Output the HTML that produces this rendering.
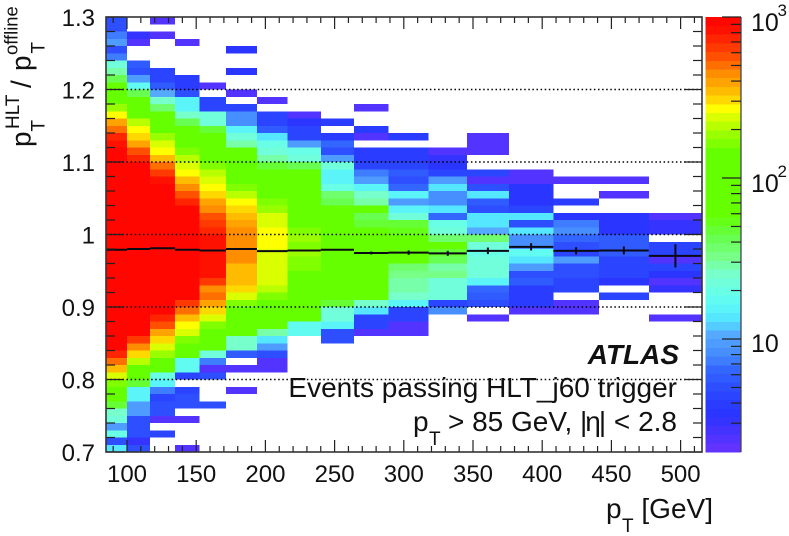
<!DOCTYPE html>
<html lang="en">
<head>
<meta charset="utf-8">
<title>HLT jet response versus pT</title>
<style>
html,body{margin:0;padding:0;background:#fff;width:789px;height:536px;overflow:hidden}
svg{display:block;font-family:"Liberation Sans",sans-serif;fill:#111}
</style>
</head>
<body>
<svg id="chart" xmlns="http://www.w3.org/2000/svg" width="789" height="536" viewBox="0 0 789 536">
  <g id="cells"></g>
  <g id="grid"></g>
  <g id="means"></g>
  <g id="ticks"></g>
  <rect x="106" y="17" width="596" height="435" fill="none" stroke="#333" stroke-width="1.6"/>
  <g id="tickLabels" font-size="24"></g>
  <g id="colorbar"></g>

  <g>
    <text x="606" y="518" font-size="28">p</text>
    <text x="622" y="532" font-size="19">T</text>
    <text x="713" y="518" font-size="28" text-anchor="end">[GeV]</text>
  </g>
  <g>
    <text transform="translate(30.5,147) rotate(-90)" font-size="28">p</text>
    <text transform="translate(44.5,131.5) rotate(-90)" font-size="19">T</text>
    <text transform="translate(19,129) rotate(-90)" font-size="19">HLT</text>
    <text transform="translate(30.5,88) rotate(-90)" font-size="28">/</text>
    <text transform="translate(30.5,71) rotate(-90)" font-size="28">p</text>
    <text transform="translate(44.5,53.5) rotate(-90)" font-size="19">T</text>
    <text transform="translate(17.5,55) rotate(-90)" font-size="18.4">offline</text>
  </g>
  <text x="679" y="364" font-size="28" font-weight="bold" font-style="italic" text-anchor="end">ATLAS</text>
  <text x="677" y="397" font-size="28" text-anchor="end">Events passing HLT_j60 trigger</text>
  <g>
    <text x="413" y="431" font-size="28">p</text>
    <text x="429" y="445" font-size="19">T</text>
    <text x="677" y="431" font-size="28" text-anchor="end">&gt; 85 GeV, |<tspan dx="-2">η</tspan><tspan dx="-2">|</tspan> &lt; 2.8</text>
  </g>
</svg>

<script>
// pT bin edges in GeV
const binEdges = [85,100,116.6,134.7,152.4,171.5,193.9,216,240,264,289,318,345.5,376,408,441,477,515.5];
// First ratio row with a value in each column (row 0 is the top row, ratio 1.29-1.30)
const firstRow = [0,2,0,3,9,4,11,13,14,12,16,18,16,21,22,22,27];
// Event counts per column, running downward from firstRow; 0 means an empty bin
const binCounts = [
 [5,5,7,10,5,7,22,28,40,70,130,150,190,260,380,480,720,800,
  1000,1000,1000,1000,1000,1000,1000,1000,1000,1000,1000,1000,1000,1000,
  1000,1000,1000,1000,1000,1000,1000,1000,1000,1000,1000,1000,1000,1000,
  700,500,350,250,170,110,80,50,25,22,10,20,5,14],
 [3.2,2.4,0,0,6,5,9,17,40,100,120,150,210,260,320,400,540,700,
  1000,1000,1000,1000,1000,1000,1000,1000,1000,1000,1000,1000,
  1000,1000,1000,1000,1000,1000,1000,1000,1000,1000,1000,1000,
  650,440,300,200,130,90,50,15,16,10,9,5,5,5,3.2,5],
 [2.3,0,2.3,0,0,0,0,4.5,4.5,6,11,27,35,70,110,150,190,230,280,340,480,640,800,
  1000,1000,1000,1000,1000,1000,1000,1000,1000,1000,1000,1000,1000,1000,1000,1000,1000,1000,
  720,600,400,290,240,190,110,80,20,15,7,4.5,5,5,2.3,0,4.5,0,0],
 [2.3,0,0,0,0,4,4,5,16,16,25,40,80,100,140,170,200,240,280,350,430,600,720,
  1000,1000,1000,1000,1000,1000,1000,1000,1000,1000,1000,1000,1000,
  650,480,360,280,230,170,100,80,18,18,4.5,0,4.5,5,5,0,2.3,0,0,0,2.3],
 [2.3,0,4.5,4.5,22,24,45,70,90,120,130,170,200,250,260,320,400,440,590,620,720,
  850,850,850,850,850,850,650,470,500,380,290,230,160,130,90,70,24,7,2.3,5,0,0,0,5],
 [3.5,0,0,3.5,0,0,2.3,0,4.5,8,8,15,22,30,60,80,100,110,120,170,220,280,290,330,400,420,
  420,440,450,420,350,360,330,300,240,170,130,110,90,80,25,25,6,0,2.3,0,0,2.3],
 [2.3,0,4.5,4.5,6,14,19,22,30,50,70,90,100,110,160,190,230,250,260,
  260,260,250,250,230,230,230,200,170,120,110,90,70,30,14,10,5,2.3,2.3],
 [2.3,3.5,4.5,4.5,10,20,22,40,60,80,85,90,100,110,120,130,170,
  180,170,190,170,160,150,140,130,120,100,90,80,17,17],
 [4,0,4,6.5,5,10,22,16,15,20,35,40,80,90,100,110,
  110,120,130,130,120,110,100,90,80,50,24,24,15,5,5],
 [2.3,0,0,4,2.3,0,4,4,4.5,7,10,15,25,28,70,40,45,70,
  80,85,90,90,85,80,75,70,65,25,14,4.5,4.5,2.3],
 [4,0,4,4,4.5,6,5,6.5,15,10,15,22,45,55,65,75,80,70,35,32,30,28,26,16,4.5,4.5,2.3,2.3],
 [2.3,3.2,3.5,4.5,9,14,8,8.5,13,6.5,20,22,35,60,45,40,28,32,22,22,22,4.5,8.5],
 [2.3,2.3,2.3,0,0,4.5,2.3,5,14,6,5,14,14,11,35,24,20,22,24,24,15,6.5,6,5,0,2.3],
 [2.3,2.3,3.5,3.5,3.5,4.5,14,5,14,8,8,18,13,10,5,6,4,4,4,2.3],
 [2.3,0,0,4,0,3.5,7,8.5,6.5,5,4.5,10,4.8,4.8,4.5,4.5,0,2.3,2.3],
 [2.3,0,2.3,0,0,3.5,3.5,3.5,6,6,6,4.5,4.5,4.5,3.5,0,4.5],
 [2.3,3.2,3.2,0,4.5,4.5,2.3,4.5,3.5,2.3,3.2,0,0,0,2.3]
];
// Mean response and its uncertainty per column
const meanRatio = [0.979,0.98,0.981,0.979,0.978,0.98,0.977,0.978,0.979,0.9745,0.975,0.974,0.9775,0.983,0.9775,0.978,0.9705];
const meanError = [0.0005,0.0005,0.0005,0.0005,0.0005,0.0005,0.0008,0.001,0.001,0.002,0.003,0.0035,0.0045,0.005,0.005,0.0055,0.016];
// Axis tick values and labels
const xMajorTicks = [100,150,200,250,300,350,400,450,500];
const xMinorTicks = [90,110,120,130,140,160,170,180,190,210,220,230,240,260,270,280,290,310,320,330,340,360,370,380,390,410,420,430,440,460,470,480,490,510];
const yMajorTicks = [0.7,0.8,0.9,1.0,1.1,1.2,1.3];
const yTickLabels = ["0.7","0.8","0.9","1","1.1","1.2","1.3"];
const yMinorTicks = [0.72,0.74,0.76,0.78,0.82,0.84,0.86,0.88,0.92,0.94,0.96,0.98,1.02,1.04,1.06,1.08,1.12,1.14,1.16,1.18,1.22,1.24,1.26,1.28];
const gridLines = [0.8,0.9,1.0,1.1,1.2];
const zMajorTicks = [10,100,1000];
const zExponents = ["","2","3"];
const zMinorTicks = [3,4,5,6,7,8,9,20,30,40,50,60,70,80,90,200,300,400,500,600,700,800,900];
// Colour scale: fraction along the log z axis and its colour
const paletteFractions = [0,.05,.085,.13,.19,.22,.27,.29,.315,.36,.41,.45,.5,.545,.69,.73,.763,.79,.816,.844,.874,.906,.936,.97,1];
const paletteColors = ["#6a33ff","#4433ff","#2a33ff","#2a44ff","#3366ff","#4488ff","#55aaff","#55ccff","#55eeff","#66ffee","#77ffcc","#77ff88","#66ff44","#66ff00","#66ff00","#99ff00","#ccff00","#ffff00","#ffcc00","#ffaa00","#ff8800","#ff5500","#ff3300","#ff1100","#ff0000"];

const NS = "http://www.w3.org/2000/svg";
const LEVELS = 50, Z_MIN = 2, Z_MAX = 1000, ROW_WIDTH = 0.01;

function xScale(pt){ return 127 + (pt - 100) * 1.384; }
function yScale(r){ return 452 - (r - 0.7) * 725; }
function zScale(z){ return 17 + (3 - Math.log10(z)) * 161; }

function make(tag, attrs, parent){
  const el = document.createElementNS(NS, tag);
  for (const k in attrs) el.setAttribute(k, attrs[k]);
  parent.appendChild(el);
  return el;
}
function hexToRgb(h){ return [1,3,5].map(i => parseInt(h.substr(i,2),16)); }
function paletteAt(f){
  let i = 0;
  while (i < paletteFractions.length - 2 && f > paletteFractions[i+1]) i++;
  const t = Math.min(1, Math.max(0, (f - paletteFractions[i]) / (paletteFractions[i+1] - paletteFractions[i])));
  const a = hexToRgb(paletteColors[i]), b = hexToRgb(paletteColors[i+1]);
  return "rgb(" + a.map((v,n) => Math.round(v + (b[n]-v)*t)).join(",") + ")";
}
function levelColor(level){ return paletteAt((level + 0.5) / LEVELS); }
function countColor(c){
  const lo = Math.log10(Z_MIN), hi = Math.log10(Z_MAX);
  const level = Math.max(0, Math.min(LEVELS - 1, Math.floor((Math.log10(c) - lo) / (hi - lo) * LEVELS)));
  return levelColor(level);
}

// Heatmap
const cells = document.getElementById("cells");
binCounts.forEach((column, ci) => {
  column.forEach((count, k) => {
    if (!count) return;
    const row = firstRow[ci] + k;
    const x0 = xScale(binEdges[ci]), x1 = xScale(binEdges[ci+1]);
    const y0 = yScale(1.3 - row * ROW_WIDTH), y1 = yScale(1.3 - (row + 1) * ROW_WIDTH);
    const r = make("rect", {x:x0, y:y0, width:x1-x0, height:y1-y0, fill:countColor(count), "shape-rendering":"crispEdges"}, cells);
    
    
  });
});

// Dotted grid
const grid = document.getElementById("grid");
gridLines.forEach(v => {
  const l = make("line", {x1:106, x2:702, y1:yScale(v), y2:yScale(v), stroke:"#000", "stroke-width":1.4, "stroke-dasharray":"1.5 2.6"}, grid);
  
  
});

// Mean profile
const means = document.getElementById("means");
meanRatio.forEach((m, i) => {
  const x0 = xScale(binEdges[i]), x1 = xScale(binEdges[i+1]), xc = (x0 + x1) / 2;
  const h = make("line", {x1:x0, x2:x1, y1:yScale(m), y2:yScale(m), stroke:"#0a0a14", "stroke-width":2}, means);
  
  
  const v = make("line", {x1:xc, x2:xc, y1:yScale(m - meanError[i]), y2:yScale(m + meanError[i]), stroke:"#0a0a14", "stroke-width":2}, means);
  
  
});

// Ticks
const ticks = document.getElementById("ticks");
function addTick(x1, y1, x2, y2){
  const t = make("line", {x1, y1, x2, y2, stroke:"#222", "stroke-width":1.2}, ticks);
  
  
}
xMajorTicks.forEach(v => { const x = xScale(v); addTick(x,452,x,440); addTick(x,17,x,29); });
xMinorTicks.forEach(v => { const x = xScale(v); addTick(x,452,x,446); addTick(x,17,x,23); });
yMajorTicks.forEach(v => { const y = yScale(v); addTick(106,y,124,y); addTick(702,y,684,y); });
yMinorTicks.forEach(v => { const y = yScale(v); addTick(106,y,115,y); addTick(702,y,693,y); });

// Tick labels
const tickLabels = document.getElementById("tickLabels");
xMajorTicks.forEach(v => {
  const t = make("text", {x:xScale(v), y:482, "text-anchor":"middle"}, tickLabels);
  
  
  t.textContent = String(v);
});
yMajorTicks.forEach((v, i) => {
  const t = make("text", {x:95, y:yScale(v) + 9, "text-anchor":"end"}, tickLabels);
  
  
  t.textContent = yTickLabels[i];
});

// Colour bar
const bar = document.getElementById("colorbar");
const barH = 435 / LEVELS;
for (let level = 0; level < LEVELS; level++) {
  const r = make("rect", {x:705.5, y:452 - (level + 1) * barH, width:35.5, height:barH + 0.3, fill:levelColor(level), "shape-rendering":"crispEdges"}, bar);
  
  
}
const barEdge = make("line", {x1:741, x2:741, y1:17, y2:452, stroke:"#445", "stroke-width":1.3}, bar);


zMinorTicks.forEach(z => {
  const t = make("line", {x1:731, x2:741, y1:zScale(z), y2:zScale(z), stroke:"#222", "stroke-width":1.2}, bar);
  
  
});
zMajorTicks.forEach((z, i) => {
  const y = zScale(z);
  const t = make("line", {x1:722, x2:741, y1:y, y2:y, stroke:"#222", "stroke-width":1.2}, bar);
  
  
  const base = make("text", {x:751, y:y + 14 - (i === 0 ? 1 : 0), "font-size":25}, bar);
  
  
  base.textContent = "10";
  if (zExponents[i]) {
    const e = make("text", {x:777.5, y:y - 1, "font-size":17}, bar);
    
    
    e.textContent = zExponents[i];
  }
});
</script>
</body>
</html>
